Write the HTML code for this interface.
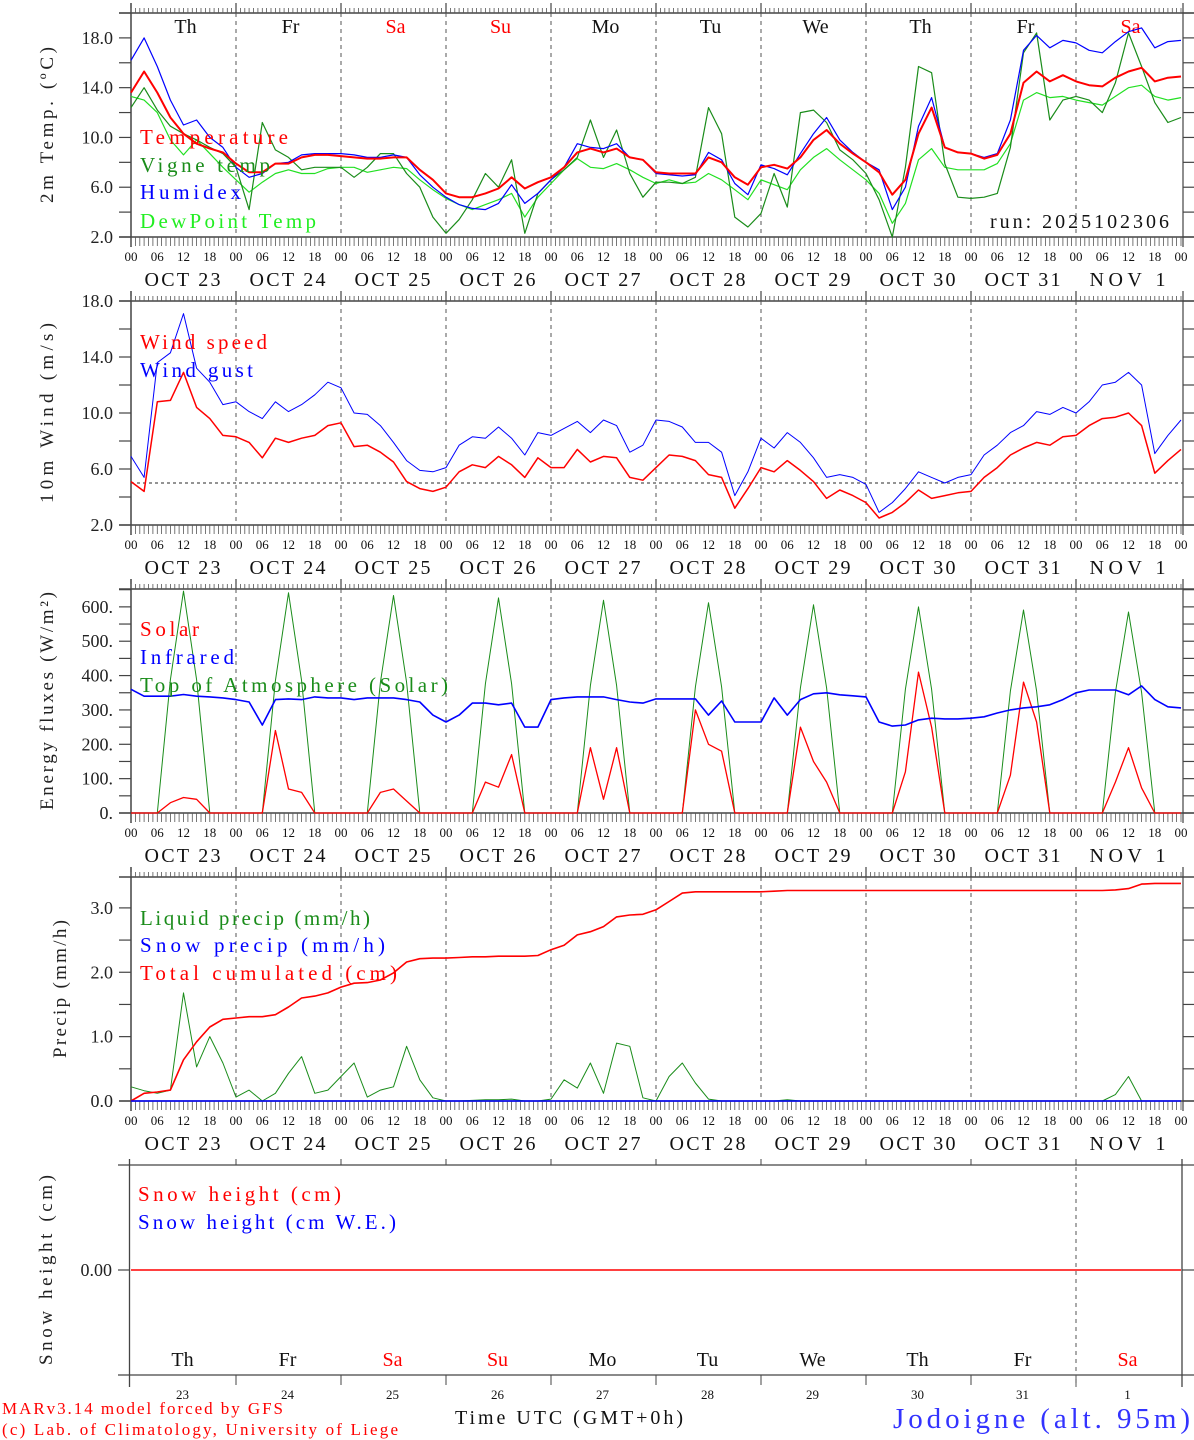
<!DOCTYPE html>
<html><head><meta charset="utf-8">
<style>
html,body{margin:0;padding:0;background:#fff;}
svg{display:block;font-family:"Liberation Serif",serif;}
</style></head>
<body>
<svg id="chart" width="1194" height="1440" viewBox="0 0 1194 1440" xmlns="http://www.w3.org/2000/svg"></svg>
<script>
// ---- data (3-hourly, Oct 23 00 UTC .. Nov 2 00 UTC) ----
const dayNames = ["Th","Fr","Sa","Su","Mo","Tu","We","Th","Fr","Sa"];
const dayNums = ["23","24","25","26","27","28","29","30","31","1"];
const dateLabels = ["OCT 23","OCT 24","OCT 25","OCT 26","OCT 27","OCT 28","OCT 29","OCT 30","OCT 31","NOV  1"];
const hourLabels = ["00","06","12","18"];
const temperature = [13.6,15.3,13.6,11.6,10.3,9.5,9.1,8.8, 7.9,7.2,7.2,7.9,7.9,8.4,8.6,8.6, 8.5,8.4,8.3,8.3,8.4,8.4,7.4,6.6, 5.5,5.2,5.2,5.5,5.9,6.8,5.9,6.4, 6.8,7.6,8.8,9.1,8.8,9.1,8.4,8.2, 7.2,7.1,7.1,7.1,8.4,8.0,6.8,6.2, 7.6,7.8,7.5,8.4,9.8,10.6,9.5,8.7, 8.0,7.2,5.4,6.6,10.3,12.4,9.2,8.8, 8.7,8.3,8.6,10.3,14.4,15.3,14.5,15.0, 14.5,14.2,14.1,14.8,15.3,15.6,14.5,14.8,14.9];
const vigneTemp = [12.4,14.0,12.2,10.9,10.3,9.8,9.2,8.7, 7.6,4.2,11.2,9.0,8.4,7.4,7.6,7.6, 7.6,6.8,7.6,8.7,8.7,7.1,6.0,3.6, 2.3,3.4,5.0,7.1,6.0,8.2,2.3,5.5, 6.6,7.4,8.4,11.4,8.4,10.6,7.1,5.2, 6.4,6.4,6.3,6.8,12.4,10.3,3.6,2.8, 3.9,7.1,4.4,12.0,12.2,11.2,9.0,8.2, 7.1,5.0,2.0,7.6,15.7,15.2,7.9,5.2, 5.1,5.2,5.5,9.2,16.8,18.4,11.4,13.0, 13.3,13.0,12.0,14.4,18.4,15.7,12.8,11.2,11.6];
const humidex = [16.2,18.0,15.7,13.0,11.0,11.4,10.0,9.2, 7.6,6.8,7.1,7.9,8.0,8.6,8.7,8.7, 8.7,8.6,8.4,8.4,8.6,8.4,7.0,6.0, 5.2,4.6,4.3,4.2,4.7,6.2,4.7,5.5, 6.6,7.6,9.5,9.2,9.1,9.5,8.4,8.2, 7.1,7.0,6.9,7.0,8.8,8.2,6.3,5.4, 7.8,7.5,7.0,8.7,10.3,11.6,9.8,8.8, 8.0,7.4,4.2,6.0,10.9,13.2,9.2,8.8, 8.7,8.4,8.7,11.4,17.0,18.2,17.2,17.8, 17.6,17.0,16.8,17.7,18.5,18.8,17.2,17.7,17.8];
const dewPoint = [13.3,13.0,12.0,9.8,8.6,9.8,8.7,7.6, 6.6,5.6,6.4,7.1,7.4,7.1,7.1,7.5, 7.6,7.6,7.2,7.4,7.6,7.5,6.6,5.8, 5.1,4.6,4.2,4.6,5.0,5.5,3.6,5.2, 6.3,7.4,8.3,7.6,7.5,7.9,7.4,6.8, 6.3,6.6,6.3,6.4,7.1,6.6,5.8,5.0, 6.6,6.2,5.8,7.4,8.4,9.1,8.2,7.4, 6.6,5.5,3.1,4.7,8.2,9.1,7.6,7.4, 7.4,7.4,7.9,9.5,13.0,13.6,13.2,13.3, 13.0,12.8,12.6,13.3,14.0,14.2,13.3,13.0,13.2];
const windSpeed = [5.1,4.4,10.8,10.9,12.9,10.4,9.6,8.4, 8.3,7.9,6.8,8.2,7.9,8.2,8.4,9.1, 9.3,7.6,7.7,7.2,6.5,5.1,4.6,4.4, 4.7,5.8,6.3,6.1,6.9,6.3,5.4,6.8, 6.1,6.1,7.4,6.5,6.9,6.8,5.4,5.2, 6.1,7.0,6.9,6.6,5.6,5.4,3.2,4.6, 6.1,5.8,6.6,5.9,5.1,3.9,4.5,4.1, 3.6,2.5,2.9,3.6,4.5,3.9,4.1,4.3, 4.4,5.4,6.1,7.0,7.5,7.9,7.7,8.3, 8.4,9.1,9.6,9.7,10.0,9.1,5.7,6.6,7.4];
const windGust = [6.9,5.4,13.6,14.3,17.1,13.2,12.2,10.6, 10.8,10.1,9.6,10.8,10.1,10.6,11.3,12.2, 11.8,10.0,9.9,9.1,7.9,6.6,5.9,5.8, 6.1,7.7,8.3,8.2,9.0,8.2,7.0,8.6, 8.4,8.9,9.4,8.6,9.5,9.1,7.2,7.7, 9.5,9.4,9.0,7.9,7.9,7.2,4.1,5.8, 8.2,7.5,8.6,7.9,6.8,5.4,5.6,5.4, 4.9,2.9,3.6,4.6,5.8,5.4,5.0,5.4, 5.6,7.0,7.7,8.6,9.1,10.1,9.9,10.4, 10.0,10.8,12.0,12.2,12.9,12.0,7.1,8.4,9.5];
const windRef = 5.0;
const solar = [0,0,0,30,45,40,0,0, 0,0,0,240,70,60,0,0, 0,0,0,60,70,35,0,0, 0,0,0,90,75,170,0,0, 0,0,0,190,40,190,0,0, 0,0,0,300,200,180,0,0, 0,0,0,250,150,90,0,0, 0,0,0,120,410,250,0,0, 0,0,0,110,381,265,0,0, 0,0,0,90,190,73,0,0,0];
const infrared = [360,340,340,340,345,340,338,335, 330,323,256,330,332,330,338,335, 335,330,335,335,335,330,323,285, 265,285,320,320,315,320,250,250, 330,335,338,338,338,330,323,320, 332,332,332,332,285,326,265,265, 265,335,285,330,347,350,344,341, 338,265,253,256,271,276,274,274, 276,280,291,300,306,309,315,330, 350,358,358,358,344,370,330,309,306];
const toaSolar = [0,0,0,388,646,388,0,0, 0,0,0,385,641,385,0,0, 0,0,0,380,633,380,0,0, 0,0,0,376,626,376,0,0, 0,0,0,371,619,371,0,0, 0,0,0,367,612,367,0,0, 0,0,0,364,606,364,0,0, 0,0,0,360,600,360,0,0, 0,0,0,355,591,355,0,0, 0,0,0,351,585,351,0,0,0];
const liquidPrecip = [0.22,0.16,0.12,0.17,1.68,0.53,1.0,0.59, 0.06,0.17,0,0.12,0.43,0.69,0.12,0.17, 0.38,0.59,0.06,0.17,0.22,0.85,0.33,0.05, 0,0,0.01,0.02,0.02,0.03,0,0, 0.03,0.33,0.2,0.59,0.12,0.9,0.85,0.05, 0,0.38,0.59,0.28,0.03,0,0,0, 0,0,0.02,0,0,0,0,0, 0,0,0,0,0,0,0,0, 0,0,0,0,0,0,0,0, 0,0,0,0.1,0.38,0,0,0,0];
const snowPrecip = new Array(81).fill(0);
const cumulated = [0.0,0.12,0.14,0.17,0.64,0.92,1.15,1.27, 1.29,1.31,1.31,1.34,1.46,1.6,1.63,1.68, 1.77,1.83,1.84,1.88,1.99,2.16,2.21,2.22, 2.22,2.23,2.24,2.24,2.25,2.25,2.25,2.26, 2.35,2.42,2.58,2.63,2.71,2.86,2.89,2.9, 2.97,3.1,3.23,3.25,3.25,3.25,3.25,3.25, 3.25,3.26,3.27,3.27,3.27,3.27,3.27,3.27, 3.27,3.27,3.27,3.27,3.27,3.27,3.27,3.27, 3.27,3.27,3.27,3.27,3.27,3.27,3.27,3.27, 3.27,3.27,3.27,3.28,3.3,3.37,3.38,3.38,3.38];
const snowHeight = new Array(81).fill(0);

// ---- rendering ----
const NS = "http://www.w3.org/2000/svg";
const svg = document.getElementById("chart");
const X0 = 131, X1 = 1181;
const xOfHour = h => X0 + h * (X1 - X0) / 240;
const xOfIdx = i => xOfHour(i * 3);

function mk(tag, attrs, parent) {
  const e = document.createElementNS(NS, tag);
  for (const k in attrs) e.setAttribute(k, attrs[k]);
  (parent || svg).appendChild(e);
  return e;
}
function txt(s, x, y, size, color, anchor, fam, parent, len) {
  const t = mk("text", {x: x, y: y, "font-size": size, fill: color, "text-anchor": anchor || "start",
    "font-family": fam || '"Liberation Serif", serif'}, parent);
  if (len) { t.setAttribute("textLength", len); t.setAttribute("lengthAdjust", "spacing"); }
  t.textContent = s;
  return t;
}

function panel(name, top, bottom, vmin, vmax, labelVals, tickStep, fmt, ylabel, ylabelX, ylabelLen) {
  const g = mk("g", {});
  
  
  const yOf = v => bottom - (v - vmin) / (vmax - vmin) * (bottom - top);
  mk("line", {x1: 119, y1: top, x2: 1194, y2: top, stroke: "#444", "stroke-width": 1.5}, g);
  mk("line", {x1: 119, y1: bottom, x2: 1194, y2: bottom, stroke: "#444", "stroke-width": 1.5}, g);
  mk("line", {x1: X0, y1: top - 10, x2: X0, y2: bottom + 10, stroke: "#444", "stroke-width": 1.5}, g);
  mk("line", {x1: 1183, y1: top - 10, x2: 1183, y2: bottom + 10, stroke: "#444", "stroke-width": 1.2}, g);
  let d = "";
  for (let h = 0; h <= 240; h++) {
    const x = xOfHour(h).toFixed(1);
    d += `M${x} ${top}v-5M${x} ${bottom}v9`;
  }
  mk("path", {d: d, stroke: "#555", "stroke-width": 0.8, fill: "none"}, g);
  for (let k = 1; k < 10; k++) {
    const x = xOfHour(k * 24);
    mk("line", {x1: x, y1: top - 10, x2: x, y2: top, stroke: "#444", "stroke-width": 1.2}, g);
    const dl = mk("line", {x1: x, y1: top, x2: x, y2: bottom, stroke: "#555", "stroke-width": 1, "stroke-dasharray": "4,4"}, g);
    
  }
  for (let v = vmin; v <= vmax + 1e-6; v += tickStep) {
    const y = yOf(v);
    if (y < top - 0.5) continue;
    mk("line", {x1: 119, y1: y, x2: X0, y2: y, stroke: "#444", "stroke-width": 1.2}, g);
    mk("line", {x1: 1183, y1: y, x2: 1194, y2: y, stroke: "#444", "stroke-width": 1.2}, g);
  }
  labelVals.forEach(v => {
    const t = txt(fmt(v), 113, yOf(v) + 6, 18, "#222", "end", null, g);
    
  });
  for (let k = 0; k < 10; k++) {
    hourLabels.forEach((hl, j) => {
      txt(hl, xOfHour(k * 24 + j * 6), bottom + 24, 13, "#111", "middle", null, g);
    });
    const dt = txt(dateLabels[k], xOfHour(k * 24 + 12) - 1, bottom + 49, 20, "#111", "middle", null, g, 76);
    
  }
  txt("00", xOfHour(240), bottom + 24, 13, "#111", "middle", null, g);
  const yl = txt(ylabel, 0, 0, 19, "#222", "middle", null, g, ylabelLen);
  yl.setAttribute("transform", `translate(${ylabelX},${(top + bottom) / 2}) rotate(-90)`);
  
  return {g, yOf};
}

function series(p, arr, color, width, name) {
  let d = "";
  arr.forEach((v, i) => { d += (i ? "L" : "M") + xOfIdx(i).toFixed(1) + " " + p.yOf(v).toFixed(1); });
  const e = mk("path", {d: d, stroke: color, "stroke-width": width, fill: "none", "stroke-linejoin": "round"}, p.g);
  
  
}
function legend(p, s, x, y, color, len) {
  const t = txt(s, x, y, 21, color, "start", '"Liberation Serif", serif', p.g, len);
  
  
}

const p1 = panel("temperature", 13, 237, 2, 20, [2, 6, 10, 14, 18], 2, v => v.toFixed(1), "2m Temp. (ºC)", 53, 156);
dayNames.forEach((n, k) => {
  const t = txt(n, xOfHour(k * 24 + 12) + 2, 33, 20, (n === "Sa" || n === "Su") ? "#f00" : "#111", "middle", null, p1.g);
  
});
series(p1, dewPoint, "#22e022", 1.2, "dewpoint-line");
series(p1, vigneTemp, "#1a8c1a", 1.2, "vigne-temp-line");
series(p1, humidex, "#0000ff", 1.2, "humidex-line");
series(p1, temperature, "#ff0000", 2, "temperature-line");
legend(p1, "Temperature", 140, 144, "#f00", 148);
legend(p1, "Vigne temp", 140, 172, "#1a8c1a", 130);
legend(p1, "Humidex", 140, 199, "#00f", 101);
legend(p1, "DewPoint Temp", 140, 228, "#2e2", 176);
const run = txt("run: 2025102306", 1169, 228, 20, "#111", "end", '"Liberation Serif", serif', p1.g, 179);


const p2 = panel("wind", 301, 525, 2, 18, [2, 6, 10, 14, 18], 2, v => v.toFixed(1), "10m Wind (m/s)", 53, 180);
const refY = p2.yOf(windRef);
const ref = mk("line", {x1: X0, y1: refY, x2: 1183, y2: refY, stroke: "#555", "stroke-width": 1.3, "stroke-dasharray": "3,3"}, p2.g);

series(p2, windGust, "#0000ff", 1, "wind-gust-line");
series(p2, windSpeed, "#ff0000", 1.5, "wind-speed-line");
legend(p2, "Wind speed", 140, 349, "#f00", 127);
legend(p2, "Wind gust", 140, 377, "#00f", 113);

const p3 = panel("energy", 589, 813, 0, 652, [0, 100, 200, 300, 400, 500, 600], 50, v => v + ".", "Energy fluxes (W/m²)", 53, 218);
series(p3, toaSolar, "#1a8c1a", 1, "toa-solar-line");
series(p3, solar, "#ff0000", 1.3, "solar-line");
series(p3, infrared, "#0000ff", 1.6, "infrared-line");
legend(p3, "Solar", 140, 636, "#f00", 59);
legend(p3, "Infrared", 140, 664, "#00f", 94);
legend(p3, "Top of Atmosphere (Solar)", 140, 692, "#1a8c1a", 308);

const p4 = panel("precip", 877, 1101, 0, 3.48, [0, 1, 2, 3], 0.5, v => v.toFixed(1), "Precip (mm/h)", 66, 138);
series(p4, liquidPrecip, "#1a8c1a", 1, "liquid-precip-line");
series(p4, cumulated, "#ff0000", 1.6, "cumulated-precip-line");
series(p4, snowPrecip, "#0000ff", 1.6, "snow-precip-line");
legend(p4, "Liquid precip (mm/h)", 140, 925, "#1a8c1a", 230);
legend(p4, "Snow precip (mm/h)", 140, 952, "#00f", 245);
legend(p4, "Total cumulated (cm)", 140, 980, "#f00", 257);

const g5 = mk("g", {});


const t5 = 1165, b5 = 1375;
const y5 = v => 1270 - v * 100;
mk("line", {x1: 118, y1: t5, x2: 1194, y2: t5, stroke: "#444", "stroke-width": 1.3}, g5);
mk("line", {x1: 118, y1: b5, x2: 1194, y2: b5, stroke: "#444", "stroke-width": 1.3}, g5);
mk("line", {x1: 129.5, y1: t5 - 6, x2: 129.5, y2: b5 + 12, stroke: "#444", "stroke-width": 1.3}, g5);
mk("line", {x1: 1182, y1: t5 - 6, x2: 1182, y2: b5 + 12, stroke: "#444", "stroke-width": 1.3}, g5);
mk("line", {x1: 118, y1: 1270, x2: 129.5, y2: 1270, stroke: "#444", "stroke-width": 1.2}, g5);
mk("line", {x1: 1182, y1: 1270, x2: 1194, y2: 1270, stroke: "#444", "stroke-width": 1.2}, g5);
for (let k = 1; k < 10; k++) {
  const x = xOfHour(k * 24);
  mk("line", {x1: x, y1: t5, x2: x, y2: t5 - 6, stroke: "#444", "stroke-width": 1}, g5);
  mk("line", {x1: x, y1: b5, x2: x, y2: b5 + 10, stroke: "#444", "stroke-width": 1}, g5);
}
const dl5 = mk("line", {x1: xOfHour(216), y1: t5 - 6, x2: xOfHour(216), y2: b5 + 12, stroke: "#555", "stroke-width": 1, "stroke-dasharray": "4,4"}, g5);

const lab5 = txt("0.00", 112, 1276, 18, "#222", "end", null, g5);

dayNames.forEach((n, k) => {
  const t = txt(n, xOfHour(k * 24 + 12) - 1, 1366, 20, (n === "Sa" || n === "Su") ? "#f00" : "#111", "middle", null, g5);
  
  const t2 = txt(dayNums[k], xOfHour(k * 24 + 12) - 1, 1399, 13, "#111", "middle", null, g5);
  
});
let sd = "";
snowHeight.forEach((v, i) => { sd += (i ? "L" : "M") + xOfIdx(i).toFixed(1) + " " + y5(v).toFixed(1); });
const sl = mk("path", {d: sd, stroke: "#ff0000", "stroke-width": 1.5, fill: "none"}, g5);

const syl = txt("Snow height (cm)", 0, 0, 19, "#222", "middle", null, g5, 190);
syl.setAttribute("transform", "translate(52,1270) rotate(-90)");

const sl1 = txt("Snow height (cm)", 138, 1201, 21, "#f00", "start", '"Liberation Serif", serif', g5, 203);

const sl2 = txt("Snow height (cm W.E.)", 138, 1229, 21, "#00f", "start", '"Liberation Serif", serif', g5, 258);


const f1 = txt("MARv3.14 model forced by GFS", 2, 1414, 17, "#f00", "start", '"Liberation Serif", serif', null, 281);

const f2 = txt("(c) Lab. of Climatology, University of Liege", 2, 1435, 17, "#f00", "start", '"Liberation Serif", serif', null, 396);

const f3 = txt("Time UTC (GMT+0h)", 455, 1424, 20, "#111", "start", '"Liberation Serif", serif', null, 228);

const f4 = txt("Jodoigne (alt. 95m)", 1190, 1428, 29, "#3333ff", "end", '"Liberation Serif", serif', null, 297);

</script>
</body></html>
